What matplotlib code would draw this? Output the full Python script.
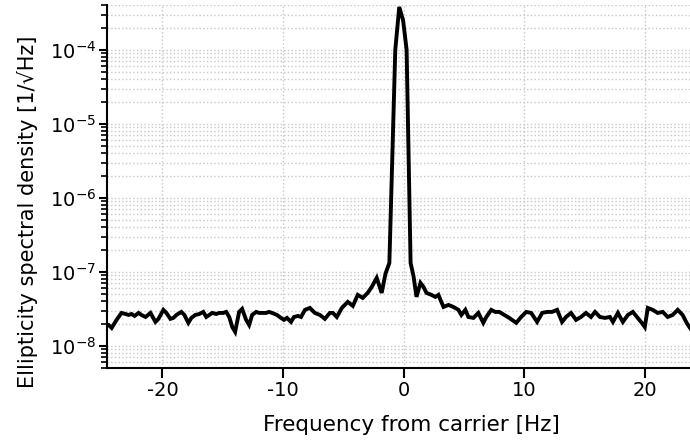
import numpy as np
import matplotlib
matplotlib.use("Agg")
import matplotlib.pyplot as plt
from matplotlib.ticker import LogLocator, NullFormatter

# frequency offset from carrier [Hz] and spectral density [1/sqrt(Hz)]
freq = [
    -24.65, -24.46, -24.21, -23.80, -23.39, -23.06, -22.81, -22.56, -22.31, -21.98,
    -21.74, -21.40, -20.99, -20.58, -20.33, -19.92, -19.67, -19.34, -19.09, -18.84,
    -18.43, -18.18, -17.85, -17.60, -17.27, -16.94, -16.61, -16.36, -16.12, -15.87,
    -15.54, -15.29, -14.96, -14.71, -14.46, -14.21, -13.97, -13.64, -13.39, -13.06,
    -12.81, -12.56, -12.23, -11.98, -11.74, -11.40, -11.16, -10.91, -10.50, -10.17,
    -9.92, -9.67, -9.34, -9.09, -8.76, -8.51, -8.18, -7.77, -7.36, -6.94,
    -6.53, -6.12, -5.87, -5.54, -5.12, -4.63, -4.21, -3.80, -3.39, -2.98,
    -2.64, -2.23, -1.82, -1.50, -1.18, -0.69, -0.36, -0.04, 0.25, 0.58,
    0.82, 1.07, 1.40, 1.65, 1.90, 2.31, 2.64, 2.89, 3.06, 3.31,
    3.72, 4.13, 4.55, 4.79, 5.12, 5.37, 5.79, 6.20, 6.61, 6.86,
    7.27, 7.60, 7.93, 8.35, 8.76, 9.34, 9.75, 10.17, 10.58, 11.07,
    11.49, 11.90, 12.31, 12.73, 13.14, 13.47, 13.88, 14.30, 14.71, 15.12,
    15.54, 15.87, 16.28, 16.69, 17.11, 17.36, 17.77, 18.18, 18.60, 19.01,
    19.42, 19.75, 20.00, 20.25, 20.66, 21.07, 21.49, 21.90, 22.31, 22.73,
    23.14, 23.47, 23.80,
]
# values in units of 1e-8
psd = [
    1.95, 1.92, 1.75, 2.25, 2.79, 2.70, 2.62, 2.70, 2.54, 2.79,
    2.62, 2.46, 2.79, 2.11, 2.32, 3.07, 2.79, 2.32, 2.39, 2.62,
    2.88, 2.62, 2.05, 2.39, 2.62, 2.70, 2.88, 2.46, 2.62, 2.79,
    2.70, 2.79, 2.79, 2.88, 2.46, 1.80, 1.55, 2.88, 3.16, 2.25,
    1.92, 2.62, 2.88, 2.79, 2.79, 2.79, 2.88, 2.79, 2.62, 2.39,
    2.25, 2.39, 2.11, 2.46, 2.54, 2.46, 3.07, 3.26, 2.79, 2.62,
    2.32, 2.79, 2.79, 2.46, 3.26, 3.93, 3.47, 4.89, 4.45, 5.20,
    6.27, 8.30, 5.20, 9.50, 13.2, 10000, 38000, 25000, 10000, 13.2,
    8.8, 4.6, 7.10, 6.27, 5.20, 4.89, 4.59, 4.89, 4.18, 3.36,
    3.58, 3.36, 3.07, 2.62, 3.07, 2.46, 2.39, 2.79, 2.05, 2.46,
    3.07, 2.88, 2.88, 2.62, 2.39, 2.05, 2.46, 2.88, 2.79, 2.11,
    2.79, 2.88, 2.88, 3.07, 2.11, 2.46, 2.79, 2.25, 2.46, 2.79,
    2.46, 2.88, 2.46, 2.39, 2.46, 2.11, 2.79, 2.11, 2.62, 2.88,
    2.39, 2.05, 1.80, 3.26, 3.07, 2.79, 2.88, 2.46, 2.62, 3.07,
    2.62, 2.05, 1.70,
]

plt.rcParams['font.family'] = ['DejaVu Sans']
plt.rcParams['mathtext.default'] = 'regular'
plt.rcParams['axes.unicode_minus'] = False

fig = plt.figure(figsize=(6.9, 4.42), dpi=100)
ax = fig.add_axes([0.155, 0.167, 0.845, 0.821])

ax.plot(freq, np.array(psd) * 1e-8, color='black', lw=2.8, solid_joinstyle='miter')

ax.set_yscale('log')
ax.set_xlim(-24.6, 23.75)
ax.set_ylim(5e-9, 4e-4)
ax.set_xticks([-20, -10, 0, 10, 20])
ax.yaxis.set_major_locator(LogLocator(base=10, numticks=12))
ax.yaxis.set_minor_locator(LogLocator(base=10, subs=np.arange(2, 10), numticks=12))
ax.yaxis.set_minor_formatter(NullFormatter())

ax.grid(True, which='major', axis='both', color='#c8c8c8', linestyle=':', linewidth=1.0)
ax.grid(True, which='minor', axis='y', color='#c8c8c8', linestyle=':', linewidth=1.0)
ax.set_axisbelow(True)

for s in ['top', 'right']:
    ax.spines[s].set_visible(False)
for s in ['left', 'bottom']:
    ax.spines[s].set_linewidth(1.5)

ax.tick_params(axis='x', which='major', direction='out', length=7, width=1.5, labelsize=14, pad=2)
ax.tick_params(axis='y', which='major', direction='out', length=6, width=1.5, labelsize=14, pad=2)
ax.tick_params(axis='y', which='minor', direction='out', length=4, width=1.2)

ax.set_xlabel('Frequency from carrier [Hz]', fontsize=15.5)
ax.set_ylabel('Ellipticity spectral density [1/\u221aHz]', fontsize=15)
ax.xaxis.set_label_coords(0.522, -0.13)
ax.yaxis.set_label_coords(-0.118, 0.43)

fig.savefig('out.png', dpi=100)
